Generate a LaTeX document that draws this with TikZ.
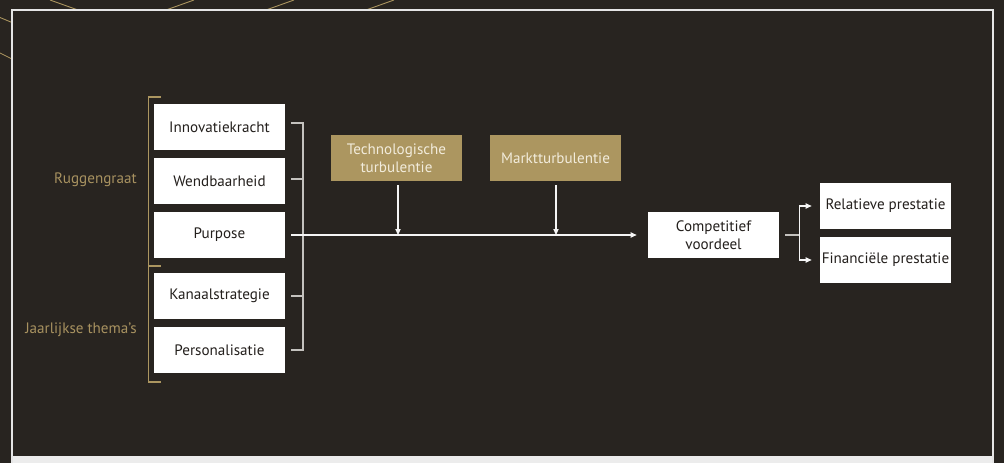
\documentclass[tikz,border=0pt]{standalone}
\usepackage{fontspec}
\setmainfont{PT Sans}
\usepackage{tikz}
\usetikzlibrary{arrows.meta, calc, positioning}

\definecolor{bgdark}{RGB}{40,36,32}
\definecolor{goldish}{RGB}{172,150,96}
\definecolor{goldtext}{RGB}{168,146,96}
\definecolor{cream}{RGB}{242,236,220}
\definecolor{inkdark}{RGB}{35,31,28}
\definecolor{linegray}{RGB}{196,194,190}

\tikzset{
  whitebox/.style={fill=white, text=inkdark, minimum width=2.62cm, minimum height=0.92cm, inner sep=0pt, align=center},
  goldbox/.style={fill=goldish, text=cream, minimum width=2.62cm, minimum height=0.92cm, inner sep=0pt, align=center},
  tickline/.style={draw=linegray, line width=0.6pt},
  arrline/.style={draw=white!92!gray, line width=0.6pt, -{Triangle[length=3.4pt,width=3pt]}},
  goldline/.style={draw=goldish, line width=0.7pt},
  sidelabel/.style={text=goldtext, anchor=east, inner sep=0pt}
}

\begin{document}
\begin{tikzpicture}[x=0.02cm, y=-0.02cm, font=\fontsize{8.6}{10.4}\selectfont]

        \useasboundingbox (0,0) rectangle (1004,463);
        \fill[bgdark] (0,0) rectangle (1004,463);

        % frame and corner lines
        \draw[goldish, line width=0.5pt] (50,0) -- (78,10);
        \draw[goldish, line width=0.5pt] (166,10) -- (194,0);
        \draw[goldish, line width=0.5pt] (266,10) -- (294,0);
        \draw[goldish, line width=0.5pt] (366,10) -- (394,0);
        \draw[goldish, line width=0.5pt] (0,17.5) -- (12,22.5);
        \draw[goldish, line width=0.5pt] (0,53) -- (12,59);
        \fill[white!85!gray] (12,456) rectangle (993,463);
        \draw[white!80!gray, line width=0.8pt] (12,463) -- (12,10) -- (993,10) -- (993,463);

        % drivers
        \node[whitebox] (inno) at (219.5,127) {Innovatiekracht};
        \node[whitebox] (wend) at (219.5,181) {Wendbaarheid};
        \node[whitebox] (purp) at (219.5,235) {Purpose};
        \node[whitebox] (kana) at (219.5,296) {Kanaalstrategie};
        \node[whitebox] (pers) at (219.5,350) {Personalisatie};

        \node[sidelabel] (rug) at (137,180) {Ruggengraat};
        \node[sidelabel] (jaar) at (137,330) {Jaarlijkse thema’s};

        % gold bracket
        \draw[goldline] (161,97) -- (148.5,97) -- (148.5,382) -- (161,382);
        \draw[goldline] (148.5,266) -- (161,266);

        % moderators
        \node[goldbox] (tech) at (396.5,158) {Technologische\\turbulentie};
        \node[goldbox] (mark) at (555.5,158) {Marktturbulentie};

        % outcomes
        \node[whitebox] (comp) at (713.5,235) {Competitief\\voordeel};
        \node[whitebox] (rel) at (885.5,206) {Relatieve prestatie};
        \node[whitebox] (fin) at (885.5,260) {Financiële prestatie};

        % bracket on the right of the drivers
        \coordinate (brx) at (303,0);
        \draw[tickline] ($(inno.east)+(6,-4)$) -- (brx |- {$(inno.east)+(0,-4)$}) -- (brx |- pers.east) -- ($(pers.east)+(6,0)$);
        \draw[tickline] ($(wend.east)+(6,-2)$) -- (brx |- {$(wend.east)+(0,-2)$});
        \draw[tickline] ($(kana.east)+(6,0)$) -- (brx |- kana.east);

        \draw[arrline] ($(purp.east)+(6,0)$) -- ($(comp.west)+(-11,0)$);
        \coordinate (techout) at ($(tech.south)+(1.5,4)$);
        \coordinate (markout) at ($(mark.south)+(0.5,4)$);
        \draw[arrline] (techout) -- (techout |- purp.east);
        \draw[arrline] (markout) -- (markout |- purp.east);

        \coordinate (split) at ($(comp.east)+(20,0)$);
        \draw[tickline] ($(comp.east)+(6,0)$) -- (split);
        \draw[arrline] (split) |- ($(rel.west)+(-8,0)$);
        \draw[arrline] (split) |- ($(fin.west)+(-8,0)$);

    \end{tikzpicture}
\end{document}
